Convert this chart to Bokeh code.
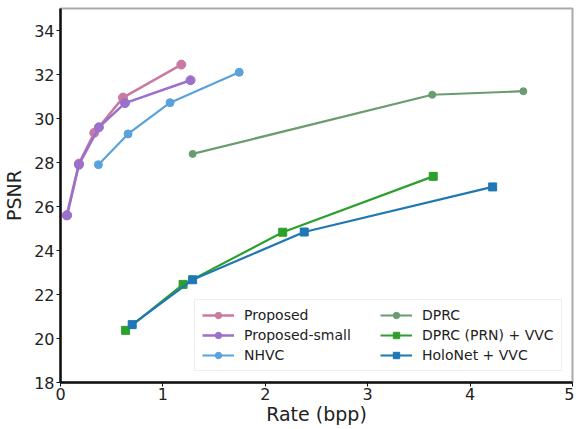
from bokeh.plotting import figure
from bokeh.models import Legend, LegendItem, FixedTicker, Range1d
from bokeh.embed import file_html
from bokeh.resources import INLINE

prop_x = [0.06, 0.18, 0.33, 0.61, 1.18]
prop_y = [25.6, 27.95, 29.35, 30.95, 32.45]
small_x = [0.065, 0.18, 0.375, 0.63, 1.27]
small_y = [25.6, 27.9, 29.6, 30.7, 31.74]
nhvc_x = [0.37, 0.66, 1.07, 1.745]
nhvc_y = [27.9, 29.3, 30.72, 32.1]
dprc_x = [1.29, 3.63, 4.52]
dprc_y = [28.39, 31.08, 31.24]
prn_x = [0.636, 1.197, 2.17, 3.64]
prn_y = [20.37, 22.46, 24.83, 27.37]
holo_x = [0.70, 1.29, 2.38, 4.22]
holo_y = [20.63, 22.67, 24.84, 26.89]

x_ticks = [0, 1, 2, 3, 4, 5]
y_ticks = [18, 20, 22, 24, 26, 28, 30, 32, 34]

p = figure(width=574, height=427, output_backend="svg", toolbar_location=None,
           x_range=Range1d(0, 5), y_range=Range1d(18, 35),
           min_border_left=56, min_border_right=2, min_border_top=8, min_border_bottom=40)

FONT = "DejaVu Sans"
for ax in (p.xaxis, p.yaxis):
    ax.major_label_text_font = FONT
    ax.major_label_text_font_size = "16px"
    ax.major_label_text_color = "#222222"
    ax.axis_label_text_font = FONT
    ax.axis_label_text_font_size = "19px"
    ax.axis_label_text_font_style = "normal"
    ax.axis_label_text_color = "#222222"
    ax.axis_line_width = 2.5
    ax.axis_line_color = "#111111"
    ax.major_tick_line_color = "#111111"
    ax.major_tick_out = 4
    ax.major_tick_in = 0
    ax.minor_tick_line_color = None
    ax.major_label_standoff = 1
    ax.axis_label_standoff = 0
p.xaxis.ticker = FixedTicker(ticks=x_ticks)
p.yaxis.ticker = FixedTicker(ticks=y_ticks)
p.xaxis.axis_label = "Rate (bpp)"
p.yaxis.axis_label = "PSNR"
p.yaxis.axis_label_standoff = 6
p.yaxis.major_label_standoff = 2
p.xgrid.grid_line_color = None
p.ygrid.grid_line_color = None
p.outline_line_color = "#aaaaaa"
p.outline_line_width = 2

series = [
    ("Proposed", prop_x, prop_y, "#c97aa3", "circle", 2.5, 9),
    ("Proposed-small", small_x, small_y, "#9a70cc", "circle", 2.5, 9),
    ("NHVC", nhvc_x, nhvc_y, "#5aa2dc", "circle", 2.2, 8),
    ("DPRC", dprc_x, dprc_y, "#6b9c70", "circle", 2.2, 7),
    ("DPRC (PRN) + VVC", prn_x, prn_y, "#2ca02c", "square", 2.2, 8),
    ("HoloNet + VVC", holo_x, holo_y, "#1f77b4", "square", 2.2, 8),
]

items = []
for name, xs, ys, col, mk, lw, sz in series:
    r1 = p.line(xs, ys, line_color=col, line_width=lw)
    r2 = p.scatter(xs, ys, marker=mk, size=sz, fill_color=col, line_color=col)
    items.append(LegendItem(label=name, renderers=[r1, r2]))

legend = Legend(items=items, location=(134, 11), nrows=3,
                label_text_font=FONT, label_text_font_size="14px",
                label_text_color="#222222",
                border_line_color="#dddddd", border_line_width=1,
                background_fill_alpha=0.85, glyph_width=32, glyph_height=16,
                label_width=132, spacing=4, padding=7, margin=0, label_standoff=10)
p.add_layout(legend)

open("out.html", "w").write(file_html(p, INLINE))
